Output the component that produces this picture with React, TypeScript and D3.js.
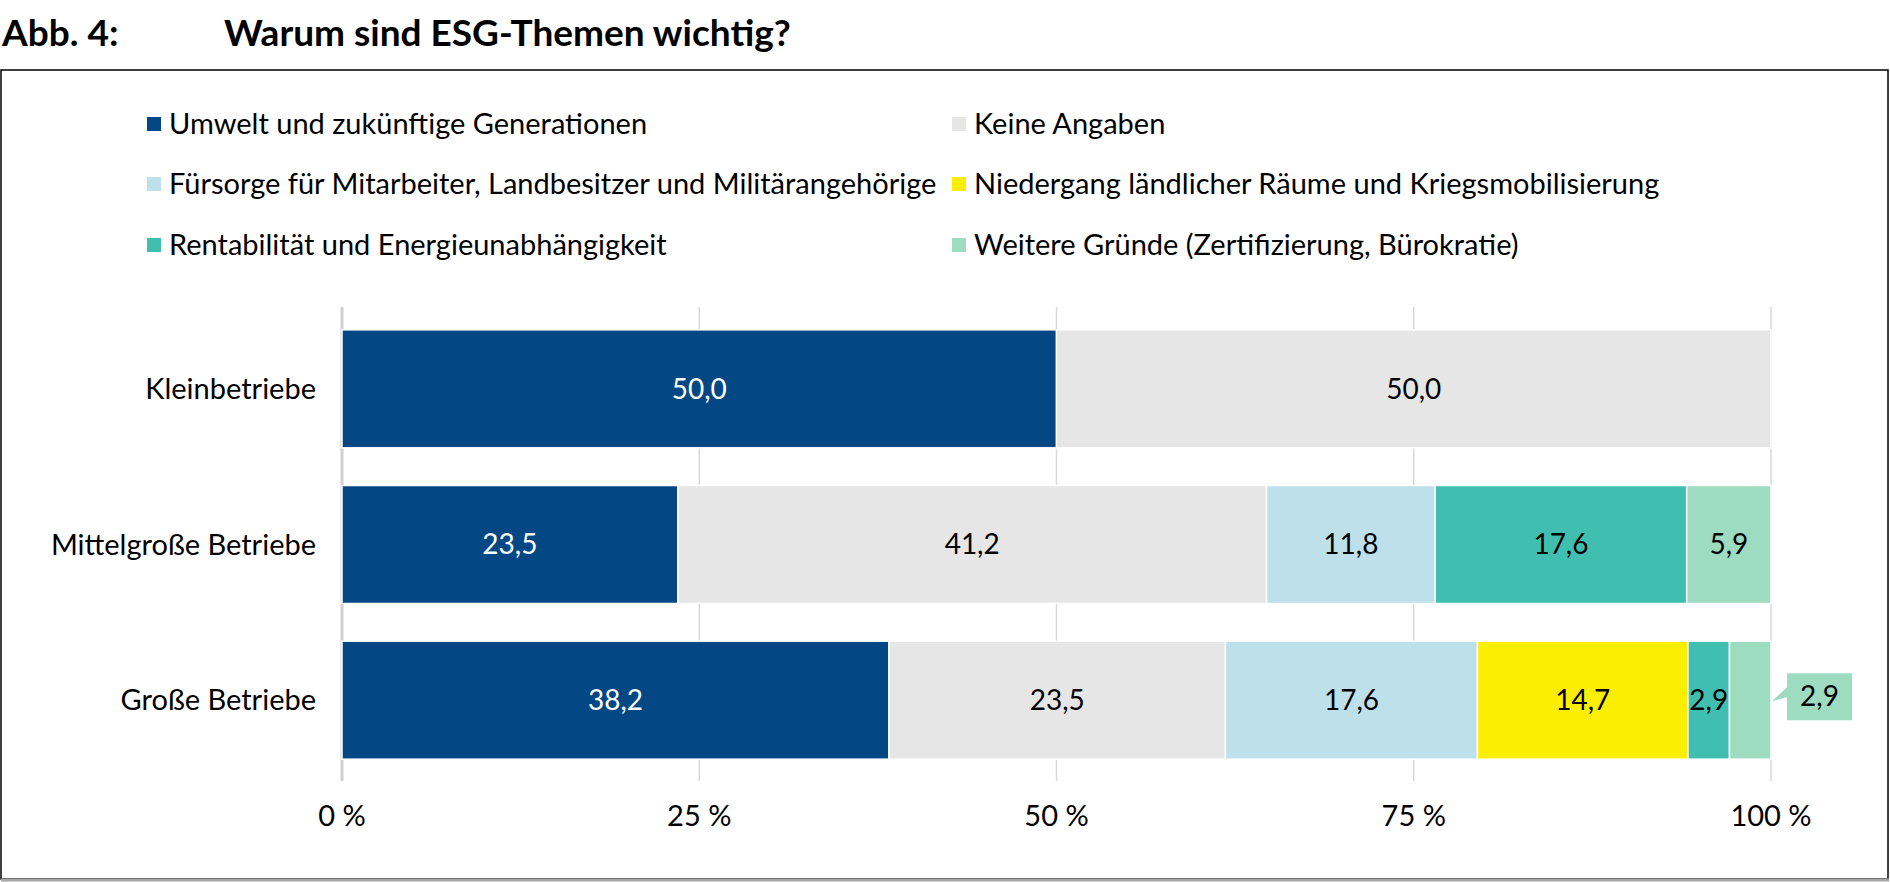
import React from "react";
import * as d3 from "d3";

const categories = ["Kleinbetriebe", "Mittelgroße Betriebe", "Große Betriebe"];
const seriesNames = [
  "Umwelt und zukünftige Generationen",
  "Keine Angaben",
  "Fürsorge für Mitarbeiter, Landbesitzer und Militärangehörige",
  "Niedergang ländlicher Räume und Kriegsmobilisierung",
  "Rentabilität und Energieunabhängigkeit",
  "Weitere Gründe (Zertifizierung, Bürokratie)",
];
const seriesColors = ["#034785", "#e6e6e6", "#bde0ea", "#fcee00", "#40bfb0", "#9ddcc0"];
const labelColors = ["#ffffff", "#000000", "#000000", "#000000", "#000000", "#000000"];
const umwelt = [50.0, 23.5, 38.2];
const keineAngaben = [50.0, 41.2, 23.5];
const fuersorge = [0, 11.8, 17.6];
const niedergang = [0, 0, 14.7];
const rentabilitaet = [0, 17.6, 2.9];
const weitere = [0, 5.9, 2.9];
const tickValues = [0, 25, 50, 75, 100];
const tickLabels = ["0 %", "25 %", "50 %", "75 %", "100 %"];

const allSeries = [umwelt, keineAngaben, fuersorge, niedergang, rentabilitaet, weitere];

const W = 1890;
const H = 882;
const FONT = "Lato, 'Open Sans', sans-serif";

export default function App() {
  const x = d3.scaleLinear().domain([0, 100]).range([342, 1771]);
  const y = d3.scaleBand().domain(categories).range([311, 778]).paddingInner(0.242).paddingOuter(0.121);

  const rows = categories.map((cat, ci) => {
    const vals = allSeries.map((s) => s[ci]);
    const total = d3.sum(vals);
    let acc = 0;
    return vals.map((v, si) => {
      const start = (acc / total) * 100;
      acc += v;
      const end = (acc / total) * 100;
      return { cat, ci, si, v, start, end };
    });
  });

  const legendCols = [147, 952];
  const legendRows = [124, 184, 245];

  return (
    <svg width={W} height={H} style={{ position: "absolute", left: 0, top: 0, background: "#fff" }} fontFamily={FONT}>
      <rect x={0} y={0} width={W} height={H} fill="#fff" />
      <text x={2} y={46} fontSize={37} fontWeight={700} fill="#000">Abb. 4:</text>
      <text x={224} y={46} fontSize={37} fontWeight={700} fill="#000">Warum sind ESG-Themen wichtig?</text>
      <rect x={1} y={70} width={1887} height={809} fill="none" stroke="#000" strokeWidth={1.5} />
      <line x1={1} x2={1889} y1={880} y2={880} stroke="#a6a6a6" strokeWidth={3} />

      {seriesNames.map((name, i) => {
        const cx = legendCols[i % 2];
        const cy = legendRows[Math.floor(i / 2)];
        return (
          <g key={name}>
            <rect x={cx} y={cy - 7} width={14} height={14} fill={seriesColors[i]} />
            <text x={cx + 22} y={cy} dy="0.35em" fontSize={29} fill="#000">{name}</text>
          </g>
        );
      })}

      {tickValues.map((t) => (
        <line key={t} x1={x(t)} x2={x(t)} y1={307} y2={781} stroke={t === 0 ? "#d0d0d0" : "#d9d9d9"} strokeWidth={t === 0 ? 3 : 1.5} />
      ))}
      {tickValues.map((t, i) => (
        <text key={"l" + t} x={x(t)} y={816} dy="0.35em" textAnchor="middle" fontSize={29} fill="#000">{tickLabels[i]}</text>
      ))}

      {categories.map((c) => (
        <text key={c} x={316} y={(y(c) as number) + y.bandwidth() / 2} dy="0.35em" textAnchor="end" fontSize={29} fill="#000">{c}</text>
      ))}

      {rows.map((row) =>
        row.filter((d) => d.v > 0).map((d) => (
          <rect key={d.cat + d.si} x={x(d.start)} y={y(d.cat)} width={x(d.end) - x(d.start)} height={y.bandwidth()} fill={seriesColors[d.si]} stroke="#fff" strokeWidth={1.5} />
        ))
      )}

      {rows.map((row) =>
        row.filter((d) => d.v > 0).map((d) => {
          const cy = (y(d.cat) as number) + y.bandwidth() / 2;
          const label = d3.format(".1f")(d.v).replace(".", ",");
          const isCallout = d.si === seriesNames.length - 1 && d.ci === categories.length - 1;
          if (isCallout) {
            const bx = x(d.end) + 16;
            const tipX = x(d.end) + 1;
            const top = cy - 27;
            const bh = 47;
            const bw = 65;
            const path = `M${bx},${top} L${bx + bw},${top} L${bx + bw},${top + bh} L${bx},${top + bh} L${bx},${top + 24} L${tipX},${top + 28} L${bx},${top + 14} Z`;
            return (
              <g key={"t" + d.cat + d.si}>
                <path d={path} fill={seriesColors[d.si]} />
                <text x={bx + bw / 2} y={top + bh / 2} dy="0.35em" textAnchor="middle" fontSize={28} fill="#000">{label}</text>
              </g>
            );
          }
          return (
            <text key={"t" + d.cat + d.si} x={(x(d.start) + x(d.end)) / 2} y={cy} dy="0.35em" textAnchor="middle" fontSize={28} fill={labelColors[d.si]}>{label}</text>
          );
        })
      )}
    </svg>
  );
}
